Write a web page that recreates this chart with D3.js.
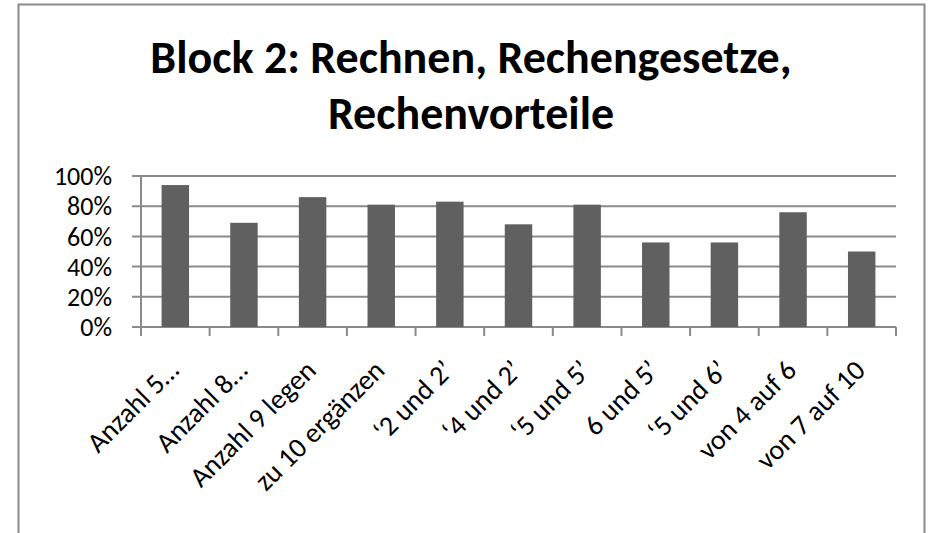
<!DOCTYPE html>
<html>
<head>
<meta charset="utf-8">
<script src="https://cdn.jsdelivr.net/npm/d3@7"></script>
<style>
  html, body { margin: 0; padding: 0; background: #fff; }
  svg { display: block; font-family: Carlito, Calibri, Lato, sans-serif; }
</style>
</head>
<body>
<svg id="chart" width="928" height="533"></svg>
<script>
"use strict";

var title_lines = ['Block 2: Rechnen, Rechengesetze,', 'Rechenvorteile'];
var categories = [
  'Anzahl 5\u2026', 'Anzahl 8\u2026', 'Anzahl 9 legen', 'zu 10 erg\u00e4nzen',
  '\u20182 und 2\u2019', '\u20184 und 2\u2019', '\u20185 und 5\u2019', '6 und 5\u2019',
  '\u20185 und 6\u2019', 'von 4 auf 6', 'von 7 auf 10'
];
var values = [0.94, 0.69, 0.86, 0.81, 0.83, 0.68, 0.81, 0.56, 0.56, 0.76, 0.50];
var y_ticks = [0, 0.2, 0.4, 0.6, 0.8, 1.0];

var svg = d3.select('#chart');
var plot = { left: 141, right: 896, top: 176, bottom: 327 };
var grey = '#8a8a8a';

// chart frame (bottom edge runs off the picture)
svg.append('rect')
  .attr('x', 18.5).attr('y', 4.5)
  .attr('width', 906).attr('height', 560)
  .attr('fill', 'none').attr('stroke', grey).attr('stroke-width', 2);

svg.append('text')
  .attr('text-anchor', 'middle')
  .attr('font-weight', 'bold')
  .attr('font-size', 46)
  .selectAll('tspan')
  .data(title_lines)
  .join('tspan')
  .attr('x', 471)
  .attr('y', function(d, i) { return 73 + i * 56; })
  .text(function(d) { return d; });

var x = d3.scaleBand().domain(categories).range([plot.left, plot.right]);
var y = d3.scaleLinear().domain([0, 1]).range([plot.bottom, plot.top]);

// gridlines
svg.append('g')
  .selectAll('line')
  .data(y_ticks)
  .join('line')
  .attr('x1', plot.left - 9).attr('x2', plot.right)
  .attr('y1', function(d) { return y(d); })
  .attr('y2', function(d) { return y(d); })
  .attr('stroke', grey).attr('stroke-width', 2);

svg.append('g')
  .selectAll('text')
  .data(y_ticks)
  .join('text')
  .attr('x', 112)
  .attr('y', function(d) { return y(d); })
  .attr('dy', '0.35em')
  .attr('text-anchor', 'end')
  .attr('font-size', 26)
  .text(d3.format('.0%'));

// bars
svg.append('g')
  .selectAll('rect')
  .data(values)
  .join('rect')
  .attr('x', function(d, i) { return x(categories[i]) + x.bandwidth() * 0.3; })
  .attr('width', x.bandwidth() * 0.4)
  .attr('y', function(d) { return y(d); })
  .attr('height', function(d) { return y(0) - y(d); })
  .attr('fill', '#606060');

// axes lines and category ticks
svg.append('line')
  .attr('x1', plot.left).attr('x2', plot.left)
  .attr('y1', plot.top).attr('y2', plot.bottom)
  .attr('stroke', grey).attr('stroke-width', 2);

var boundaries = categories.map(function(c) { return x(c); }).concat([plot.right]);
svg.append('g')
  .selectAll('line')
  .data(boundaries)
  .join('line')
  .attr('x1', function(d) { return d; })
  .attr('x2', function(d) { return d; })
  .attr('y1', plot.bottom).attr('y2', plot.bottom + 9)
  .attr('stroke', grey).attr('stroke-width', 2);

svg.append('g')
  .selectAll('text')
  .data(categories)
  .join('text')
  .attr('text-anchor', 'end')
  .attr('font-size', 28)
  .attr('transform', function(d) {
    return 'translate(' + (x(d) + x.bandwidth() / 2 + 5) + ',' + 372 + ') rotate(-45)';
  })
  .text(function(d) { return d; });
</script>
</body>
</html>
